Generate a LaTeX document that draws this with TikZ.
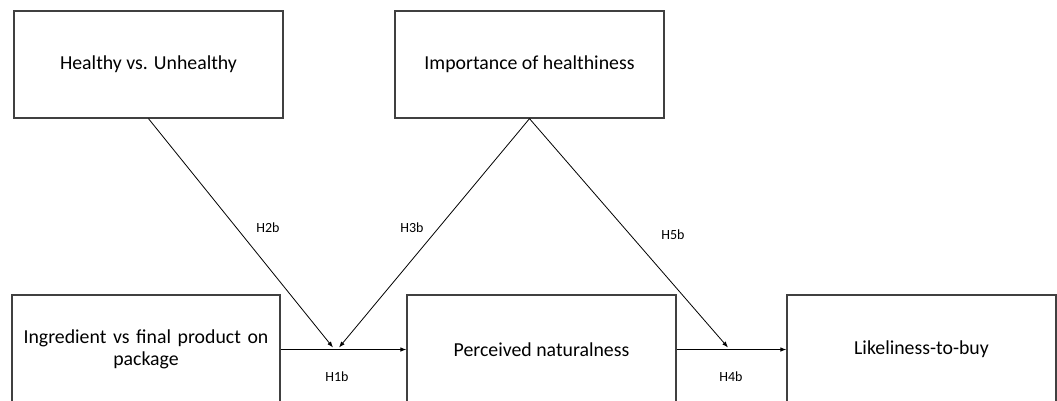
\documentclass[tikz,border=0pt]{standalone}
\usepackage{fontspec}
\setmainfont{Carlito}
\usetikzlibrary{arrows.meta}
\tikzset{
  box/.style={draw=black!75, line width=1.3pt, rectangle, inner sep=0pt, minimum width=269pt, align=center, font=\fontsize{19.8}{22}\selectfont},
  conn/.style={draw=black, line width=0.8pt, -{Latex[length=6pt,width=4.5pt]}},
  lbl/.style={font=\fontsize{14}{16}\selectfont, inner sep=0pt}
}
\begin{document}
\begin{tikzpicture}[x=1pt,y=-1pt]
\useasboundingbox (0,0) rectangle (1057,400);
\clip (0,0) rectangle (1057,400);
\node[box, minimum height=107pt] (hu) at (148.5,64.5) {\raisebox{-3pt}{Healthy vs. Unhealthy}};
\node[box, minimum height=107pt] (ih) at (529.5,64.5) {\raisebox{-3pt}{Importance of healthiness}};
\node[box, minimum height=109pt, minimum width=268pt, text width=256pt] (ip) at (146,349.5) {\raisebox{-4pt}{Ingredient vs final product on}\\\raisebox{-4pt}{package}};
\node[box, minimum height=109pt] (pn) at (541.5,349.5) {\raisebox{-2pt}{Perceived naturalness}};
\node[box, minimum height=109pt] (lb) at (921.5,349.5) {\raisebox{-2pt}{Likeliness-to-buy}};
\coordinate (j1a) at (333,347.5);
\coordinate (j1b) at (339,347.5);
\coordinate (j2) at (728,347.5);
\draw[conn] (ip.east) -- (pn.west);
\draw[conn] (pn.east) -- (lb.west);
\draw[conn] (hu.south) -- (j1a);
\draw[conn] (ih.south) -- (j1b);
\draw[conn] (ih.south) -- (j2);
\node[lbl] (h2b) at (268,228) {H2b};
\node[lbl] (h3b) at (412,228) {H3b};
\node[lbl] (h5b) at (673,235) {H5b};
\node[lbl] (h1b) at (337,377) {H1b};
\node[lbl] (h4b) at (731,377) {H4b};
\end{tikzpicture}
\end{document}
